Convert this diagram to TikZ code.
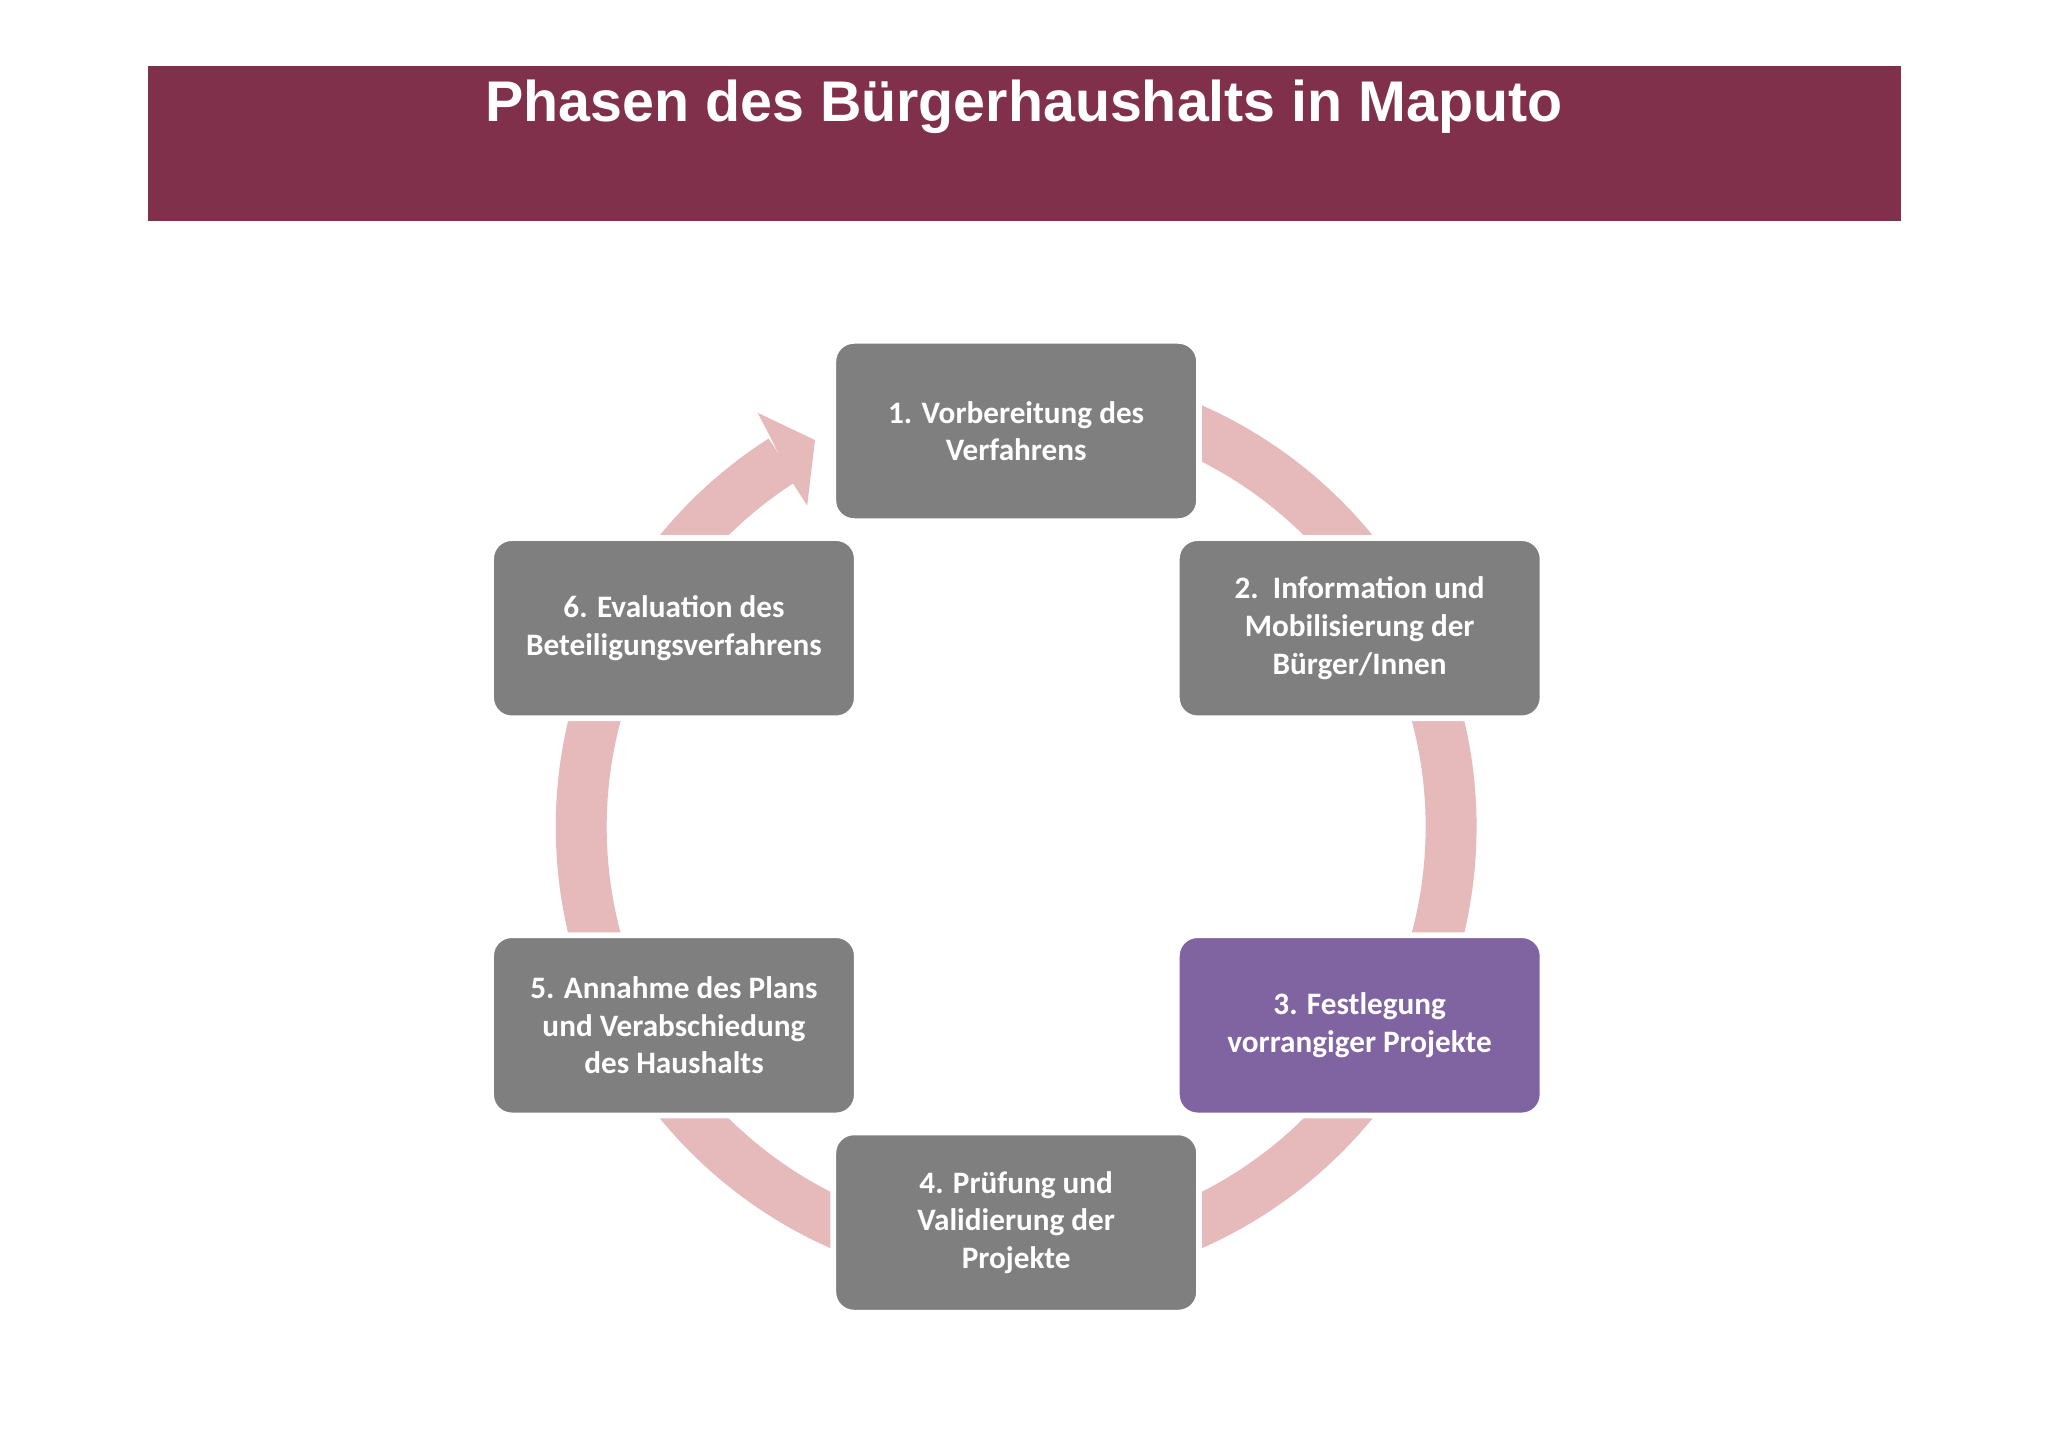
\documentclass[tikz,border=0pt]{standalone}
\usepackage{fontspec}
\usetikzlibrary{calc}
\setmainfont{Carlito}
\newfontfamily\titlefont{Liberation Sans}
\begin{document}
\begin{tikzpicture}[x=0.02cm,y=0.02cm]
\definecolor{barc}{HTML}{81304B}
\definecolor{ringc}{HTML}{E6B9BA}
\definecolor{boxg}{HTML}{7F7F7F}
\definecolor{boxp}{HTML}{8064A2}
\tikzset{phase/.style={rounded corners=9pt,fill=boxg,draw=white,line width=2.5pt,minimum width=280*0.02cm,minimum height=138*0.02cm,align=center,text=white,font=\bfseries\fontsize{13.6}{16.4}\selectfont}}
\useasboundingbox (0,0) rectangle (1568,1108);
\fill[white] (0,0) rectangle (1568,1108);
\node[fill=barc,minimum width=1342*0.02cm,minimum height=119*0.02cm,inner sep=0,anchor=north west] (bar) at (113,1058) {};
\node[text=white,font=\titlefont\bfseries\fontsize{25}{30}\selectfont] (title) at (784,1026) {Phasen des Bürgerhaushalts in Maputo};
\coordinate (c) at (778,475);
\draw[ringc,line width=0.78cm] ($(c)+(90:333)$) arc[start angle=90,end angle=-237.5,radius=333];
\fill[ringc] (590,773) -- (580,792) -- (624,771) -- (618,721) -- (607,738) -- cycle;
\node[phase] (n1) at (778,778) {1. Vorbereitung des\\Verfahrens};
\node[phase] (n2) at (1041,627) {2.\ \ Information und\\Mobilisierung der\\Bürger/Innen};
\node[phase,fill=boxp] (n3) at (1041,323) {3. Festlegung\\vorrangiger Projekte};
\node[phase] (n4) at (778,172) {4. Prüfung und\\Validierung der\\Projekte};
\node[phase] (n5) at (516,323) {5. Annahme des Plans\\und Verabschiedung\\des Haushalts};
\node[phase] (n6) at (516,627) {6. Evaluation des\\Beteiligungsverfahrens};
\end{tikzpicture}
\end{document}
